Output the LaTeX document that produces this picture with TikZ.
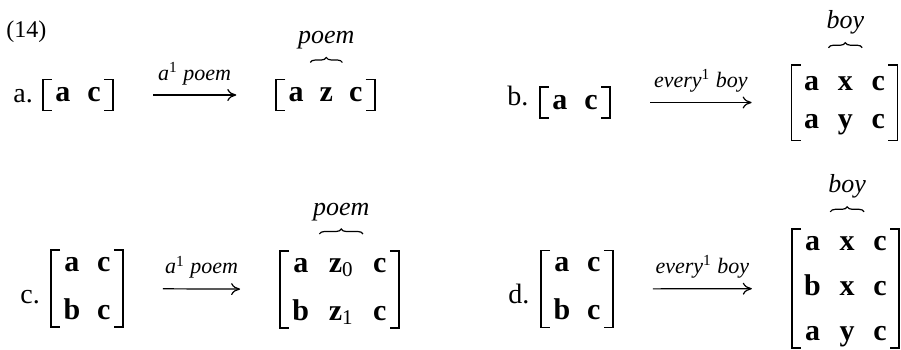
\documentclass[tikz,border=0pt]{standalone}
\usepackage{fontspec}
\setmainfont{Liberation Serif}
\usetikzlibrary{matrix,arrows.meta,decorations.pathreplacing}

\newcommand{\cellfont}{\fontsize{15}{17}\selectfont\bfseries}
% square brackets round a matrix
\newcommand{\sqbrackets}[1]{%
  \draw[brk] ([xshift=4.5pt]#1.north west) -- (#1.north west) -- (#1.south west) -- ([xshift=4.5pt]#1.south west);
  \draw[brk] ([xshift=-4.5pt]#1.north east) -- (#1.north east) -- (#1.south east) -- ([xshift=-4.5pt]#1.south east);}
% brace over one column, with its word
\newcommand{\topbrace}[3]{%
  \draw[brc] ([xshift=-4.5pt,yshift=8.5pt]#2.west |- #1.north) -- ([xshift=4.5pt,yshift=8.5pt]#2.east |- #1.north)
    node[midway, anchor=base, yshift=9.5pt, word] (#1-w) {#3};}

\tikzset{
  cell/.style={font=\cellfont, inner sep=0pt, text height=10pt, text depth=3.1pt},
  mat/.style={matrix of nodes, nodes={cell}, column sep=8pt, inner xsep=6pt, inner ysep=0.5pt},
  lbl/.style={font=\fontsize{14}{16}\selectfont, inner sep=0pt, anchor=base west},
  tag/.style={font=\fontsize{11}{13}\selectfont\itshape, inner sep=0pt},
  word/.style={font=\fontsize{13}{15}\selectfont\itshape, inner sep=0pt},
  brk/.style={line width=0.8pt},
  brc/.style={line width=0.6pt, decorate, decoration={brace, amplitude=2.5pt}},
  arr/.style={-{To[length=4.5pt,width=6pt]}, line width=0.6pt, shorten <=20pt, shorten >=20pt},
}

\begin{document}
\begin{tikzpicture}[x=0.5pt, y=-0.5pt]
  \useasboundingbox (0,0) rectangle (901,349);

  \node[lbl, font=\fontsize{12}{14}\selectfont] (num) at (6,37.5) {(14)};

  % a.
  \node[lbl] (labA) at (13,102) {a.};
  \matrix[mat, inner ysep=1pt, column sep=8.5pt] (lhsA) at (78,95) {a & c\\};
  \matrix[mat, inner ysep=1pt] (rhsA) at (325.5,95) {a & z & c\\};
  \sqbrackets{lhsA}
  \sqbrackets{rhsA}
  \topbrace{rhsA}{rhsA-1-2}{poem}
  \draw[arr] (lhsA) -- (rhsA) node[midway, anchor=base, yshift=7.5pt, tag] (tagA) {a\textsuperscript{\upshape 1} poem};

  % b.
  \node[lbl] (labB) at (507,105) {b.};
  \matrix[mat, inner ysep=1pt, column sep=8.5pt] (lhsB) at (575,102.5) {a & c\\};
  \matrix[mat, row sep=6.2pt, inner ysep=2.5pt, column sep=9.4pt] (rhsB) at (844.5,102.5) {a & x & c\\ a & y & c\\};
  \sqbrackets{lhsB}
  \sqbrackets{rhsB}
  \topbrace{rhsB}{rhsB-1-2}{boy}
  \draw[arr] (lhsB) -- (rhsB) node[midway, anchor=base, yshift=7.5pt, tag] (tagB) {every\textsuperscript{\upshape 1} boy};

  % c.
  \node[lbl] (labC) at (20,303) {c.};
  \matrix[mat, row sep=10.9pt, column sep=8.5pt] (lhsC) at (87,288.5) {a & c\\ b & c\\};
  \matrix[mat, row sep=10.9pt, column sep=9.8pt] (rhsC) at (339.5,289.5) {a & z\textsubscript{\mdseries 0} & c\\ b & z\textsubscript{\mdseries 1} & c\\};
  \sqbrackets{lhsC}
  \sqbrackets{rhsC}
  \topbrace{rhsC}{rhsC-1-2}{poem}
  \draw[arr] (lhsC) -- (rhsC) node[midway, anchor=base, yshift=7.5pt, tag] (tagC) {a\textsuperscript{\upshape 1} poem};

  % d.
  \node[lbl] (labD) at (508,303) {d.};
  \matrix[mat, row sep=10.9pt, column sep=8.5pt] (lhsD) at (577,289) {a & c\\ b & c\\};
  \matrix[mat, row sep=9.5pt, column sep=9.4pt] (rhsD) at (845.5,288.5) {a & x & c\\ b & x & c\\ a & y & c\\};
  \sqbrackets{lhsD}
  \sqbrackets{rhsD}
  \topbrace{rhsD}{rhsD-1-2}{boy}
  \draw[arr] (lhsD) -- (rhsD) node[midway, anchor=base, yshift=7.5pt, tag] (tagD) {every\textsuperscript{\upshape 1} boy};
\end{tikzpicture}
\end{document}
